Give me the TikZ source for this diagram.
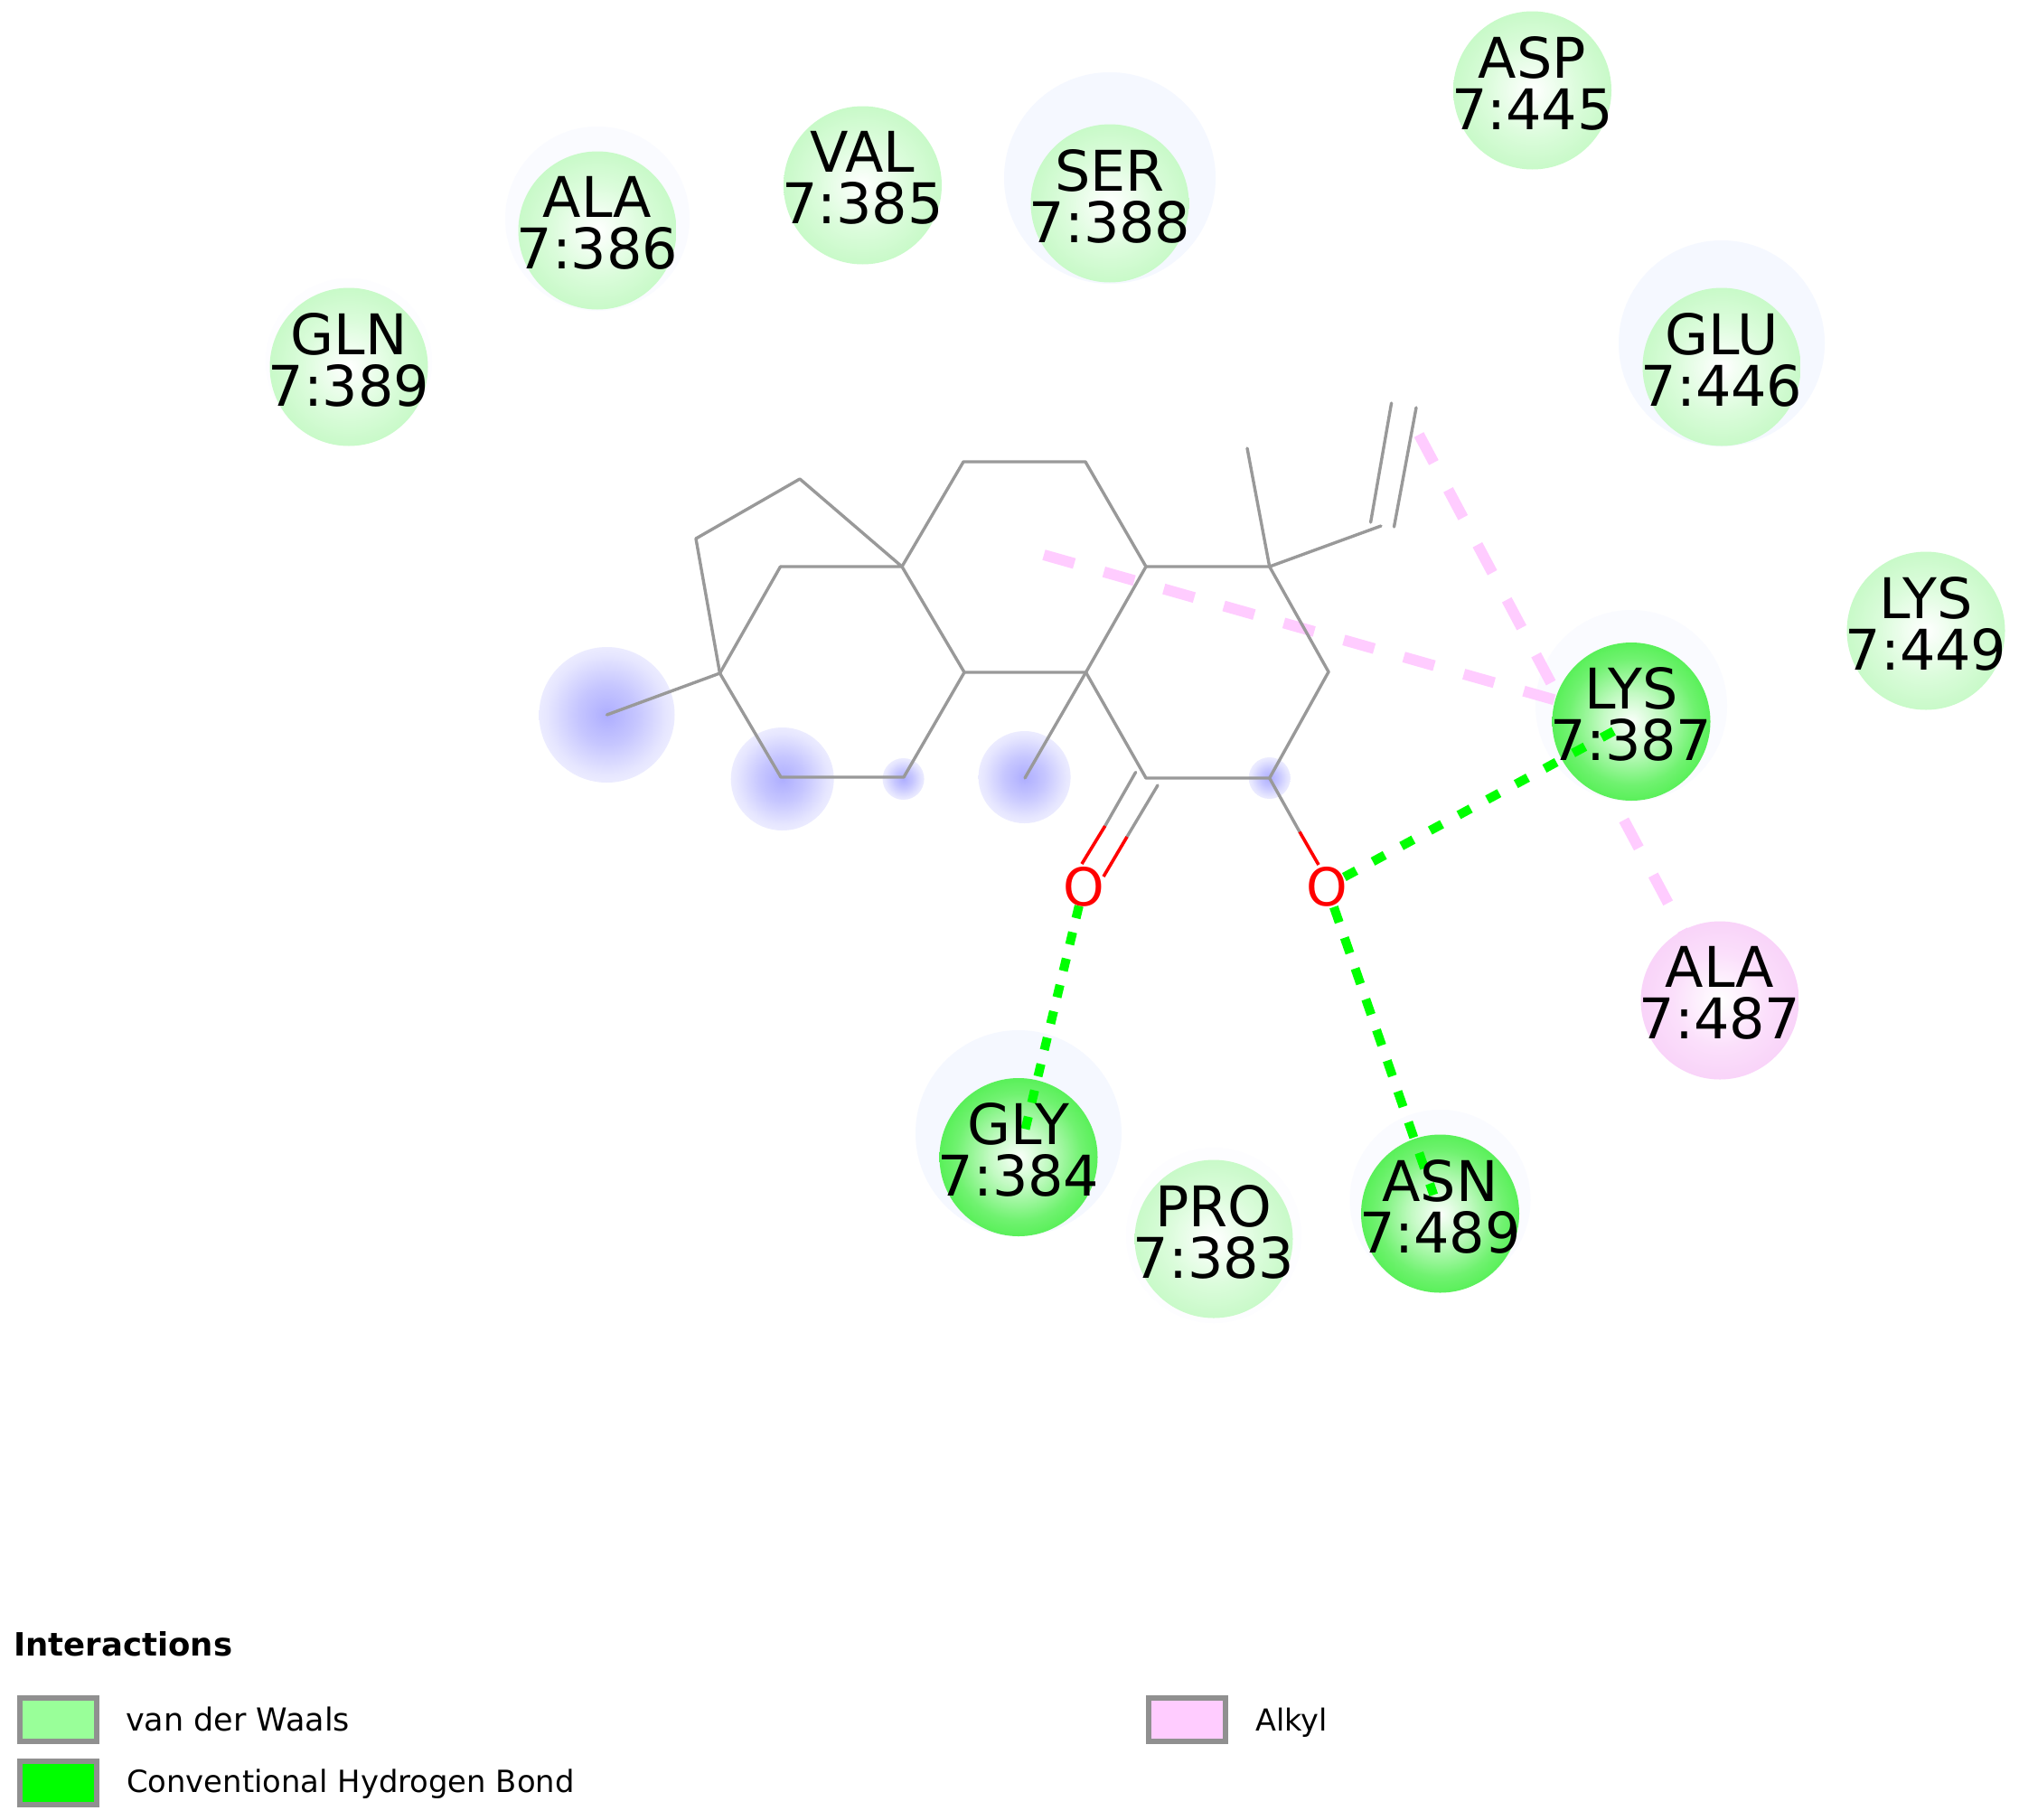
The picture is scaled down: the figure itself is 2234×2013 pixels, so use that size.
\documentclass[tikz,border=0pt]{standalone}
\usepackage{fontspec}
\setmainfont{DejaVu Sans}
\definecolor{vdwfill}{HTML}{99FF99}
\definecolor{hbfill}{HTML}{00FF00}
\definecolor{alkfill}{HTML}{FFCCFF}
\definecolor{bondgray}{HTML}{999999}
\definecolor{boxgray}{HTML}{909090}
\definecolor{halo}{HTML}{F5F8FF}
\definecolor{halofaint}{HTML}{FAFBFF}
\definecolor{halothin}{HTML}{FDFDFF}
\definecolor{vdwA}{HTML}{FFFFFF}
\definecolor{vdwB}{HTML}{DAFCDA}
\definecolor{vdwC}{HTML}{B6F7B6}
\definecolor{hbA}{HTML}{FBFFFB}
\definecolor{hbM}{HTML}{C4FAC4}
\definecolor{hbB}{HTML}{70F270}
\definecolor{hbC}{HTML}{2AEC2A}
\definecolor{alkA}{HTML}{FFFFFF}
\definecolor{alkB}{HTML}{FBDFFB}
\definecolor{alkC}{HTML}{F6C8F6}
\definecolor{glowA}{HTML}{AEAEFF}
\definecolor{glowB}{HTML}{C6C6FF}
\definecolor{glowC}{HTML}{E6E6FF}
\pgfdeclareradialshading{vdwshade}{\pgfpointorigin}{color(0bp)=(vdwA); color(15bp)=(vdwB); color(35.4bp)=(vdwC); color(50bp)=(vdwC)}
\pgfdeclareradialshading{hbshade}{\pgfpointorigin}{color(0bp)=(hbA); color(9bp)=(hbM); color(20bp)=(hbB); color(35.4bp)=(hbC); color(50bp)=(hbC)}
\pgfdeclareradialshading{alkshade}{\pgfpointorigin}{color(0bp)=(alkA); color(15bp)=(alkB); color(35.4bp)=(alkC); color(50bp)=(alkC)}
\pgfdeclareradialshading{glowshade}{\pgfpointorigin}{color(0bp)=(glowA); color(11bp)=(glowB); color(22bp)=(glowC); color(35.4bp)=(white); color(50bp)=(white)}
\pgfdeclarelayer{back}
\pgfdeclarelayer{pink}
\pgfsetlayers{back,pink,main}
\tikzset{
  x=1pt,y=-1pt,
  vdw/.style={circle,minimum size=175pt,inner sep=0pt,shading=vdwshade},
  hb/.style={circle,minimum size=175pt,inner sep=0pt,shading=hbshade},
  alk/.style={circle,minimum size=175pt,inner sep=0pt,shading=alkshade},
  lab/.style={inner sep=0pt,align=center,yshift=8pt,text=black,font=\fontsize{62}{57}\selectfont},
  glow/.style={shading=glowshade},
  bond/.style={draw=bondgray,line width=3.4pt,line cap=round,line join=round},
  obond/.style={draw=red,line width=3.6pt},
  hbond/.style={draw=hbfill,line width=10pt},
  alkbond/.style={draw=alkfill,line width=12pt,dash pattern=on 35pt off 34pt},
  keybox/.style={draw=boxgray,line width=6pt,minimum width=85pt,minimum height=48pt,inner sep=0pt},
  keytext/.style={anchor=base west,inner sep=0pt,text=black,font=\fontsize{#1}{36}\selectfont},
  atom/.style={inner sep=0pt,text=red,font=\fontsize{58}{60}\selectfont}
}
\begin{document}
\begin{tikzpicture}
\useasboundingbox (0,0) rectangle (2234,2013);
\begin{pgfonlayer}{back}
\fill[white] (0,0) rectangle (2234,2013);
% halos
\fill[halo] (1127,1254) circle (114);
\fill[halofaint] (1593.5,1328) circle (100);
\fill[halothin] (1343,1367) circle (97);
\fill[halo] (1228,197) circle (117);
\fill[halofaint] (661,242) circle (102);
\fill[halothin] (386,400) circle (92);
\fill[halo] (1905,380) circle (114);
\fill[halofaint] (1805,781) circle (106);
% hydrophobic glow
\shade[glow] (671.5,791) circle (75);
\shade[glow] (865.7,862) circle (57);
\shade[glow] (999.6,862) circle (23);
\shade[glow] (1133.6,860) circle (51);
\shade[glow] (1404.7,861) circle (23);
\end{pgfonlayer}
% atoms of the skeleton
\coordinate (p1) at (885,530);
\coordinate (p2) at (770,596);
\coordinate (p3) at (796.5,745);
\coordinate (m1) at (671.5,791);
\coordinate (a) at (863.5,627);
\coordinate (b) at (998,627);
\coordinate (c) at (1066,511);
\coordinate (d) at (1201,511);
\coordinate (e) at (1268,627);
\coordinate (f) at (1067,744);
\coordinate (g) at (1201.5,744);
\coordinate (h) at (864,860);
\coordinate (i) at (1000,860);
\coordinate (m2) at (1134,861);
\coordinate (j) at (1268,861);
\coordinate (k) at (1404.7,627);
\coordinate (m3) at (1380,496);
\coordinate (v) at (1528,582);
\coordinate (v1a) at (1516.6,578);
\coordinate (v1b) at (1539.6,446);
\coordinate (v2a) at (1542.5,583);
\coordinate (v2b) at (1567,451);
\coordinate (l) at (1470,743.5);
\coordinate (n) at (1404.7,861);
\coordinate (d1a) at (1256.6,854.5);
\coordinate (d1m) at (1222.7,914);
\coordinate (d1b) at (1197,956);
\coordinate (d2a) at (1281,869);
\coordinate (d2m) at (1247,926);
\coordinate (d2b) at (1221,970);
\coordinate (om) at (1438,920.5);
\coordinate (ob) at (1459,957);
\coordinate (al1) at (1155,614);
\coordinate (al2) at (1570,481);
% residues
\node[vdw] (asp445) at (1695.5,100) {};
\node[vdw] (val385) at (954.5,205) {};
\node[vdw] (ser388) at (1228,225) {};
\node[vdw] (ala386) at (661,255) {};
\node[vdw] (gln389) at (386,406) {};
\node[vdw] (glu446) at (1905,406) {};
\node[vdw] (lys449) at (2131,698) {};
\node[vdw] (pro383) at (1343,1371) {};
\node[hb] (lys387) at (1805,798.5) {};
\node[hb] (gly384) at (1127,1280.5) {};
\node[hb] (asn489) at (1593.5,1343) {};
\node[alk] (ala487) at (1903,1107) {};
% alkyl contacts run beneath the discs
\begin{pgfonlayer}{pink}
\draw[alkbond] (al1) -- (lys387.center);
\draw[alkbond] (al2) -- (ala487.center);
\end{pgfonlayer}
% ligand bonds
\draw[bond] (a) -- (b) -- (p1) -- (p2) -- (p3) -- (m1);
\draw[bond] (p3) -- (a);
\draw[bond] (b) -- (c) -- (d) -- (e) -- (g) -- (f) -- (b);
\draw[bond] (p3) -- (h) -- (i) -- (f);
\draw[bond] (g) -- (m2);
\draw[bond] (g) -- (j) -- (n) -- (l) -- (k) -- (e);
\draw[bond] (k) -- (m3);
\draw[bond] (k) -- (v);
\draw[bond] (v1a) -- (v1b);
\draw[bond] (v2a) -- (v2b);
\draw[bond] (d1a) -- (d1m);
\draw[obond] (d1m) -- (d1b);
\draw[bond] (d2a) -- (d2m);
\draw[obond] (d2m) -- (d2b);
\draw[bond] (n) -- (om);
\draw[obond] (om) -- (ob);
\node[atom] (o1) at (1199,981) {O};
\node[atom] (o2) at (1468,981) {O};
% hydrogen bonds
\draw[hbond,dash pattern=on 15pt off 21pt,shorten <=22pt,shorten >=22pt] (o2.center) -- (lys387.center);
\draw[hbond,dash pattern=on 18pt off 18pt,shorten <=24pt,shorten >=22pt] (o2.center) -- (asn489.center);
\draw[hbond,dash pattern=on 14pt off 16pt,shorten <=22pt,shorten >=18pt] (o1.center) -- (gly384.center);
% residue labels
\node[lab] (t445) at (asp445) {ASP\\7:445};
\node[lab] (t385) at (val385) {VAL\\7:385};
\node[lab] (t388) at (ser388) {SER\\7:388};
\node[lab] (t386) at (ala386) {ALA\\7:386};
\node[lab] (t389) at (gln389) {GLN\\7:389};
\node[lab] (t446) at (glu446) {GLU\\7:446};
\node[lab] (t449) at (lys449) {LYS\\7:449};
\node[lab] (t383) at (pro383) {PRO\\7:383};
\node[lab] (t387) at (lys387) {LYS\\7:387};
\node[lab] (t384) at (gly384) {GLY\\7:384};
\node[lab] (t489) at (asn489) {ASN\\7:489};
\node[lab] (t487) at (ala487) {ALA\\7:487};
% legend
\node[keytext=33,font=\bfseries\fontsize{35.5}{38}\selectfont] (ktitle) at (15,1832) {Interactions};
\node[keybox,fill=vdwfill] (k1) at (64.5,1903) {};
\node[keytext=35] (k1t) at (139,1915) {van der Waals};
\node[keybox,fill=hbfill] (k2) at (64.5,1972.5) {};
\node[keytext=33.8] (k2t) at (140,1983) {Conventional Hydrogen Bond};
\node[keybox,fill=alkfill] (k3) at (1313.5,1903) {};
\node[keytext=33.5] (k3t) at (1389,1915) {Alkyl};
\end{tikzpicture}
\end{document}
